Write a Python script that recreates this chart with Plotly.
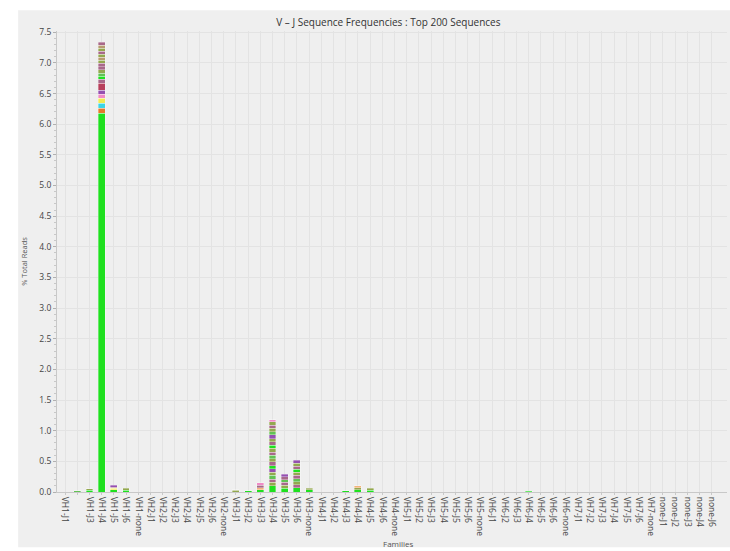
import plotly.graph_objects as go

# ---------------- data ----------------
categories = [
    "VH1-J1", "VH1-J2", "VH1-J3", "VH1-J4", "VH1-J5", "VH1-J6", "VH1-none",
    "VH2-J1", "VH2-J2", "VH2-J3", "VH2-J4", "VH2-J5", "VH2-J6", "VH2-none",
    "VH3-J1", "VH3-J2", "VH3-J3", "VH3-J4", "VH3-J5", "VH3-J6", "VH3-none",
    "VH4-J1", "VH4-J2", "VH4-J3", "VH4-J4", "VH4-J5", "VH4-J6", "VH4-none",
    "VH5-J1", "VH5-J2", "VH5-J3", "VH5-J4", "VH5-J5", "VH5-J6", "VH5-none",
    "VH6-J1", "VH6-J2", "VH6-J3", "VH6-J4", "VH6-J5", "VH6-J6", "VH6-none",
    "VH7-J1", "VH7-J2", "VH7-J3", "VH7-J4", "VH7-J5", "VH7-J6", "VH7-none",
    "none-J1", "none-J2", "none-J3", "none-J4", "none-J6",
]
tick_labels = [("" if c == "VH1-J2" else c) for c in categories]

y_ticks = [0.0, 0.5, 1.0, 1.5, 2.0, 2.5, 3.0, 3.5, 4.0, 4.5, 5.0, 5.5, 6.0, 6.5, 7.0, 7.5]

# stacked segment values (% total reads), bottom -> top, per V-J family
seg_vh1_j2 = [0.02]
seg_vh1_j3 = [0.03, 0.02]
seg_vh1_j4 = [6.18, 0.08, 0.08, 0.08, 0.07, 0.06, 0.12, 0.06, 0.05, 0.05, 0.06,
              0.05, 0.05, 0.05, 0.05, 0.05, 0.05, 0.05, 0.05, 0.05]
seg_vh1_j5 = [0.04, 0.02, 0.02, 0.03]
seg_vh1_j6 = [0.03, 0.03]
seg_vh3_j1 = [0.03, 0.01]
seg_vh3_j2 = [0.02]
seg_vh3_j3 = [0.04, 0.03, 0.04, 0.04]
seg_vh3_j4 = [0.10, 0.06, 0.05, 0.06, 0.05, 0.06, 0.05, 0.06, 0.05, 0.06, 0.05,
              0.06, 0.05, 0.06, 0.05, 0.06, 0.05, 0.06, 0.05, 0.06, 0.03]
seg_vh3_j5 = [0.06, 0.05, 0.05, 0.04, 0.05, 0.04]
seg_vh3_j6 = [0.07, 0.05, 0.05, 0.05, 0.05, 0.05, 0.05, 0.05, 0.05, 0.05]
seg_vh3_none = [0.04, 0.02]
seg_vh4_j3 = [0.02]
seg_vh4_j4 = [0.04, 0.03, 0.03]
seg_vh4_j5 = [0.03, 0.03]
seg_vh6_j4 = [0.015]

# ---------------- styles ----------------
GREEN = "#1fe01f"
LGREEN = "#62c254"
OLIVE = "#93a84e"
MAUVE = "#a8688a"
PURPLE = "#9450b0"
ORANGE = "#e6782c"
CYAN = "#3cd6e6"
YELLOW = "#f2ea52"
PINK = "#f08ac6"
CRIMSON = "#b8405c"
TAN = "#b89a72"
PEACH = "#f2b47a"

col_vh1_j2 = [LGREEN]
col_vh1_j3 = [GREEN, OLIVE]
col_vh1_j4 = [GREEN, ORANGE, CYAN, YELLOW, PINK, PURPLE, CRIMSON, MAUVE, GREEN, LGREEN,
              OLIVE, MAUVE, MAUVE, OLIVE, TAN, OLIVE, MAUVE, OLIVE, TAN, MAUVE]
col_vh1_j5 = [GREEN, YELLOW, MAUVE, PURPLE]
col_vh1_j6 = [GREEN, OLIVE]
col_vh3_j1 = [OLIVE, YELLOW]
col_vh3_j2 = [GREEN]
col_vh3_j3 = [GREEN, PEACH, MAUVE, PINK]
col_vh3_j4 = [GREEN, OLIVE, MAUVE, LGREEN, OLIVE, PURPLE, GREEN, MAUVE, OLIVE, LGREEN, MAUVE,
              OLIVE, GREEN, MAUVE, OLIVE, PURPLE, LGREEN, OLIVE, MAUVE, OLIVE, PINK]
col_vh3_j5 = [GREEN, OLIVE, MAUVE, LGREEN, MAUVE, PURPLE]
col_vh3_j6 = [GREEN, MAUVE, OLIVE, LGREEN, MAUVE, OLIVE, GREEN, MAUVE, OLIVE, PURPLE]
col_vh3_none = [GREEN, OLIVE]
col_vh4_j3 = [GREEN]
col_vh4_j4 = [GREEN, OLIVE, PEACH]
col_vh4_j5 = [GREEN, OLIVE]
col_vh6_j4 = [GREEN]

bars = [
    ("VH1-J2", seg_vh1_j2, col_vh1_j2),
    ("VH1-J3", seg_vh1_j3, col_vh1_j3),
    ("VH1-J4", seg_vh1_j4, col_vh1_j4),
    ("VH1-J5", seg_vh1_j5, col_vh1_j5),
    ("VH1-J6", seg_vh1_j6, col_vh1_j6),
    ("VH3-J1", seg_vh3_j1, col_vh3_j1),
    ("VH3-J2", seg_vh3_j2, col_vh3_j2),
    ("VH3-J3", seg_vh3_j3, col_vh3_j3),
    ("VH3-J4", seg_vh3_j4, col_vh3_j4),
    ("VH3-J5", seg_vh3_j5, col_vh3_j5),
    ("VH3-J6", seg_vh3_j6, col_vh3_j6),
    ("VH3-none", seg_vh3_none, col_vh3_none),
    ("VH4-J3", seg_vh4_j3, col_vh4_j3),
    ("VH4-J4", seg_vh4_j4, col_vh4_j4),
    ("VH4-J5", seg_vh4_j5, col_vh4_j5),
    ("VH6-J4", seg_vh6_j4, col_vh6_j4),
]

fig = go.Figure()
# invisible base trace so every family appears on the category axis
fig.add_trace(go.Bar(x=categories, y=[0] * len(categories), showlegend=False,
                     hoverinfo="skip", marker_color="rgba(0,0,0,0)"))

BAR_W = 0.56
for cat, segs, cols in bars:
    for v, c in zip(segs, cols):
        fig.add_trace(go.Bar(
            x=[cat], y=[v], width=BAR_W, showlegend=False,
            marker=dict(color=c, line=dict(color="rgba(255,255,255,0.55)", width=0.6)),
        ))

FONT = "Open Sans"
PLOT_H = 551 - 31 - 59
fig.update_layout(
    width=730, height=551,
    barmode="stack",
    paper_bgcolor="#ffffff",
    plot_bgcolor="#f5f5f5",
    margin=dict(l=57, r=3, t=31, b=59),
    font=dict(family=FONT, size=9, color="#444444"),
    title=dict(text="V – J Sequence Frequencies : Top 200 Sequences",
               x=0.532, xanchor="center", y=1 - 22 / 551, yanchor="middle",
               font=dict(family=FONT, size=10, color="#333333")),
    shapes=[dict(type="rect", xref="paper", yref="paper",
                 x0=-0.058, x1=1.01, y0=-0.12, y1=1.045,
                 fillcolor="#efefef", line=dict(width=0), layer="below")],
    annotations=[dict(text="Families", xref="paper", yref="paper",
                      x=0.51, y=-(550 - 492) / PLOT_H, xanchor="center", yanchor="bottom",
                      showarrow=False, borderpad=0,
                      font=dict(family=FONT, size=8, color="#555555"))],
)
fig.update_xaxes(
    type="category", categoryorder="array", categoryarray=categories,
    tickmode="array", tickvals=categories, ticktext=tick_labels,
    tickangle=90, tickfont=dict(size=8.5, color="#444444"),
    range=[-0.66, 54.25],
    showgrid=True, gridcolor="#e3e3e3", gridwidth=1,
    showline=True, linecolor="#c8c8c8",
    ticks="outside", ticklen=2, tickcolor="#c8c8c8",
)
fig.update_yaxes(
    range=[0, 7.52], tickmode="array", tickvals=y_ticks,
    tickformat=".1f", tickfont=dict(size=8.5, color="#444444"),
    showgrid=True, gridcolor="#e3e3e3", gridwidth=1,
    zeroline=False, showline=True, linecolor="#c8c8c8",
    ticks="outside", ticklen=3, tickcolor="#b0b0b0",
    minor=dict(dtick=0.1, ticks="outside", ticklen=2, tickcolor="#c8c8c8", showgrid=False),
    title=dict(text="% Total Reads", font=dict(size=7.5, color="#555555"), standoff=10),
)

fig.write_html("out.html", config={"displayModeBar": False},
               post_script="document.body.style.margin='0';")
